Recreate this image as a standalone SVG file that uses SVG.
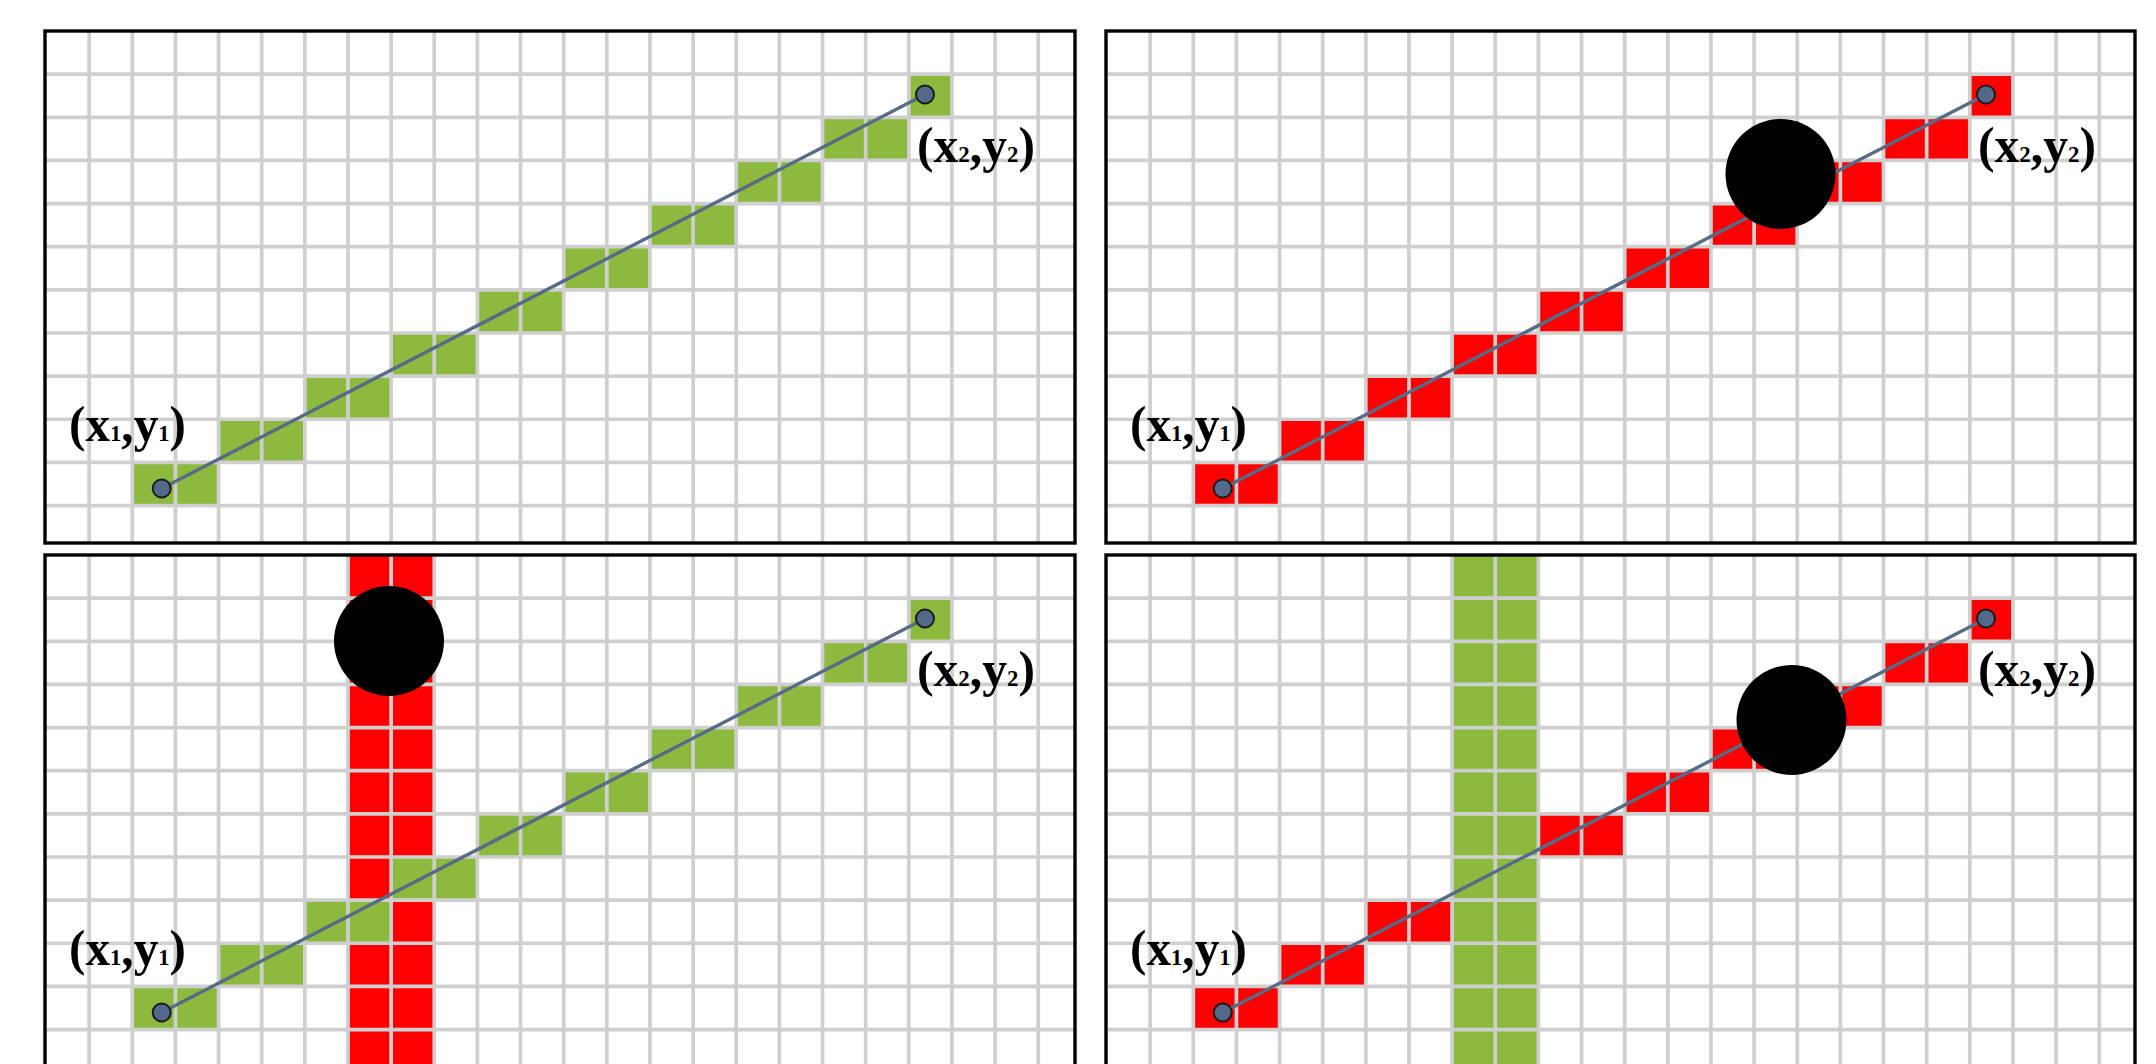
<svg xmlns="http://www.w3.org/2000/svg" xmlns:xlink="http://www.w3.org/1999/xlink" width="2156" height="1064" viewBox="0 0 2156 1064">
<style>
.bg{fill:#fff}
.grid{fill:none;stroke:#cfcfcf;stroke-width:3.7}
.frame{fill:none;stroke:#000;stroke-width:3.4}
.seg{stroke:#566b86;stroke-width:3.4;fill:none}
.pt{fill:#52698a;stroke:#1b1b1b;stroke-width:2}
.blob{fill:#000}
.green{fill:#8bba3f}
.red{fill:#ff0000}
.lbl{font-family:"Liberation Serif","Times New Roman",serif;font-weight:bold;font-size:50px;fill:#000}
.sub{font-size:23px}
</style>
<defs>
<g id="diag">
<rect x="86.28" y="431.4" width="86.28" height="43.14"/>
<rect x="172.56" y="388.26" width="86.28" height="43.14"/>
<rect x="258.84" y="345.12" width="86.28" height="43.14"/>
<rect x="345.12" y="301.98" width="86.28" height="43.14"/>
<rect x="431.4" y="258.84" width="86.28" height="43.14"/>
<rect x="517.68" y="215.7" width="86.28" height="43.14"/>
<rect x="603.96" y="172.56" width="86.28" height="43.14"/>
<rect x="690.24" y="129.42" width="86.28" height="43.14"/>
<rect x="776.52" y="86.28" width="86.28" height="43.14"/>
<rect x="862.8" y="43.14" width="43.14" height="43.14"/>
</g>
<path id="gridTop" class="grid" d="M43.14,0v512m43.14,-512v512m43.14,-512v512m43.14,-512v512m43.14,-512v512m43.14,-512v512m43.14,-512v512m43.14,-512v512m43.14,-512v512m43.14,-512v512m43.14,-512v512m43.14,-512v512m43.14,-512v512m43.14,-512v512m43.14,-512v512m43.14,-512v512m43.14,-512v512m43.14,-512v512m43.14,-512v512m43.14,-512v512m43.14,-512v512m43.14,-512v512m43.14,-512v512M0,43.14h1029m-1029,43.14h1029m-1029,43.14h1029m-1029,43.14h1029m-1029,43.14h1029m-1029,43.14h1029m-1029,43.14h1029m-1029,43.14h1029m-1029,43.14h1029m-1029,43.14h1029m-1029,43.14h1029"/>
<path id="gridBot" class="grid" d="M43.14,0v520m43.14,-520v520m43.14,-520v520m43.14,-520v520m43.14,-520v520m43.14,-520v520m43.14,-520v520m43.14,-520v520m43.14,-520v520m43.14,-520v520m43.14,-520v520m43.14,-520v520m43.14,-520v520m43.14,-520v520m43.14,-520v520m43.14,-520v520m43.14,-520v520m43.14,-520v520m43.14,-520v520m43.14,-520v520m43.14,-520v520m43.14,-520v520m43.14,-520v520M0,43.14h1029m-1029,43.14h1029m-1029,43.14h1029m-1029,43.14h1029m-1029,43.14h1029m-1029,43.14h1029m-1029,43.14h1029m-1029,43.14h1029m-1029,43.14h1029m-1029,43.14h1029m-1029,43.14h1029"/>
</defs>

<g id="panel-top-left" transform="translate(46,31)">
<rect class="bg" x="0" y="0" width="1029" height="512"/>
<use xlink:href="#diag" class="green"/>
<use xlink:href="#gridTop"/>
<line class="seg" x1="115.7" y1="457.5" x2="879" y2="63.5"/>
<circle class="pt" cx="115.7" cy="457.5" r="9"/>
<circle class="pt" cx="879" cy="63.5" r="9"/>
<text class="lbl" x="23" y="410" textLength="117" lengthAdjust="spacingAndGlyphs">(x<tspan class="sub">1</tspan>,y<tspan class="sub">1</tspan>)</text>
<text class="lbl" x="871" y="131" textLength="118" lengthAdjust="spacingAndGlyphs">(x<tspan class="sub">2</tspan>,y<tspan class="sub">2</tspan>)</text>
<rect class="frame" x="-1" y="0" width="1030" height="512"/>
</g>

<g id="panel-top-right" transform="translate(1107,31)">
<rect class="bg" x="0" y="0" width="1029" height="512"/>
<use xlink:href="#diag" class="red"/>
<use xlink:href="#gridTop"/>
<line class="seg" x1="115.7" y1="457.5" x2="879" y2="63.5"/>
<circle class="blob" cx="673.5" cy="143" r="55"/>
<circle class="pt" cx="115.7" cy="457.5" r="9"/>
<circle class="pt" cx="879" cy="63.5" r="9"/>
<text class="lbl" x="23" y="410" textLength="117" lengthAdjust="spacingAndGlyphs">(x<tspan class="sub">1</tspan>,y<tspan class="sub">1</tspan>)</text>
<text class="lbl" x="871" y="131" textLength="118" lengthAdjust="spacingAndGlyphs">(x<tspan class="sub">2</tspan>,y<tspan class="sub">2</tspan>)</text>
<rect class="frame" x="-1" y="0" width="1029" height="512"/>
</g>

<g id="panel-bottom-left" transform="translate(46,555)">
<rect class="bg" x="0" y="0" width="1029" height="520"/>
<rect class="red" x="301.98" y="0" width="86.28" height="520"/>
<use xlink:href="#diag" class="green"/>
<use xlink:href="#gridBot"/>
<line class="seg" x1="115.7" y1="457.5" x2="879" y2="63.5"/>
<circle class="blob" cx="343" cy="86" r="55"/>
<circle class="pt" cx="115.7" cy="457.5" r="9"/>
<circle class="pt" cx="879" cy="63.5" r="9"/>
<text class="lbl" x="23" y="410" textLength="117" lengthAdjust="spacingAndGlyphs">(x<tspan class="sub">1</tspan>,y<tspan class="sub">1</tspan>)</text>
<text class="lbl" x="871" y="131" textLength="118" lengthAdjust="spacingAndGlyphs">(x<tspan class="sub">2</tspan>,y<tspan class="sub">2</tspan>)</text>
<rect class="frame" x="-1" y="0" width="1030" height="530"/>
</g>

<g id="panel-bottom-right" transform="translate(1107,555)">
<rect class="bg" x="0" y="0" width="1029" height="520"/>
<use xlink:href="#diag" class="red"/>
<rect class="green" x="345.12" y="0" width="86.28" height="520"/>
<use xlink:href="#gridBot"/>
<line class="seg" x1="115.7" y1="457.5" x2="879" y2="63.5"/>
<circle class="blob" cx="684.5" cy="165" r="55"/>
<circle class="pt" cx="115.7" cy="457.5" r="9"/>
<circle class="pt" cx="879" cy="63.5" r="9"/>
<text class="lbl" x="23" y="410" textLength="117" lengthAdjust="spacingAndGlyphs">(x<tspan class="sub">1</tspan>,y<tspan class="sub">1</tspan>)</text>
<text class="lbl" x="871" y="131" textLength="118" lengthAdjust="spacingAndGlyphs">(x<tspan class="sub">2</tspan>,y<tspan class="sub">2</tspan>)</text>
<rect class="frame" x="-1" y="0" width="1029" height="530"/>
</g>
</svg>
